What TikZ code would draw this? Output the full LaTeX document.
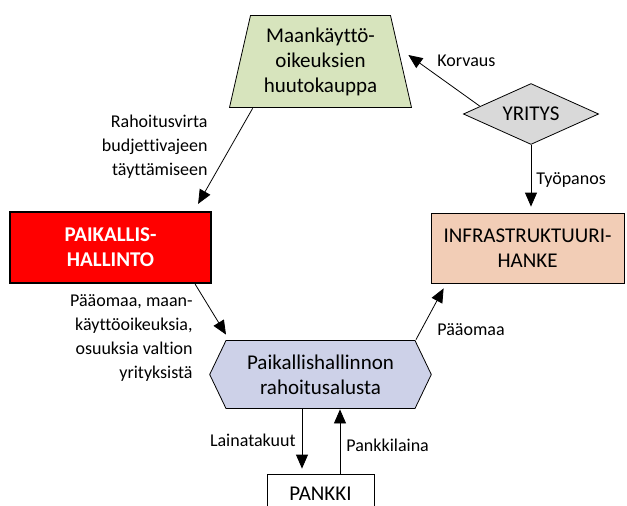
\documentclass[tikz,border=0pt]{standalone}
\usepackage{fontspec}
\setmainfont{Carlito}[Ligatures=NoCommon]
\usetikzlibrary{arrows.meta}
\definecolor{auctiongreen}{HTML}{D7E4BD}
\definecolor{firmgray}{HTML}{D9D9D9}
\definecolor{infrapeach}{HTML}{F2CDB6}
\definecolor{platformblue}{HTML}{CDD1E8}
\tikzset{
  block/.style    = {align=center, inner sep=0pt,
                     font=\fontsize{21}{25}\selectfont},
  auction/.style  = {block, path picture={
                       \filldraw[fill=auctiongreen]
                         ([shift={(21.5pt,-0.5pt)}]path picture bounding box.north west)
                         -- ([shift={(-21.5pt,-0.5pt)}]path picture bounding box.north east)
                         -- ([shift={(-0.5pt,0.5pt)}]path picture bounding box.south east)
                         -- ([shift={(0.5pt,0.5pt)}]path picture bounding box.south west)
                         -- cycle;}},
  firm/.style     = {block, path picture={
                       \filldraw[fill=firmgray]
                         ([yshift=-0.7pt]path picture bounding box.north)
                         -- ([xshift=-1pt]path picture bounding box.east)
                         -- ([yshift=0.7pt]path picture bounding box.south)
                         -- ([xshift=1pt]path picture bounding box.west)
                         -- cycle;}},
  platform/.style = {block, path picture={
                       \filldraw[fill=platformblue]
                         ([xshift=0.7pt]path picture bounding box.west)
                         -- ([shift={(17pt,-0.5pt)}]path picture bounding box.north west)
                         -- ([shift={(-17pt,-0.5pt)}]path picture bounding box.north east)
                         -- ([xshift=-0.7pt]path picture bounding box.east)
                         -- ([shift={(-17pt,0.5pt)}]path picture bounding box.south east)
                         -- ([shift={(17pt,0.5pt)}]path picture bounding box.south west)
                         -- cycle;}},
  infra/.style    = {block, draw, fill=infrapeach},
  govt/.style     = {block, draw, fill=red, line width=2.2pt,
                     text=white, font=\fontsize{21}{25}\selectfont\bfseries},
  bank/.style     = {block, draw, fill=white},
  flow/.style     = {draw, -{Triangle[length=14pt,width=12pt]}},
  lbl/.style      = {inner sep=0pt, font=\fontsize{18}{24}\selectfont}
}

\begin{document}
\begin{tikzpicture}
 [x=1pt, y=-1pt, line width=0.8pt]
  \useasboundingbox (0,0) rectangle (627,506);

  \node [auction, minimum width=183pt, minimum height=93pt] (auction) at (320.5,61.5)
    {Maankäyttö-\\oikeuksien\\huutokauppa};
  \node [firm, minimum width=137pt, minimum height=62pt] (firm) at (531,114) {YRITYS};
  \node [infra, minimum width=193pt, minimum height=70pt] (infra) at (527.5,248)
    {INFRASTRUKTUURI-\\HANKE};
  \node [govt, minimum width=201pt, minimum height=71pt] (govt) at (110.5,247.5)
    {PAIKALLIS-\\HALLINTO};
  \node [platform, minimum width=223pt, minimum height=69pt] (platform) at (320.5,374.5)
    {Paikallishallinnon\\rahoitusalusta};
  \node [bank, minimum width=107pt, minimum height=40pt] (bank) at (320.5,494) {PANKKI};

  % flows
  \draw [flow] ([xshift=24pt]auction.south west)
    -- ([shift={(-14pt,7pt)}]govt.north east);
  \draw [flow] ([shift={(17.5pt,8pt)}]firm.west) -- ([shift={(-4pt,6.5pt)}]auction.east);
  \draw [flow] (firm.south) -- ([shift={(3.5pt,6pt)}]infra.north);
  \draw [flow] ([xshift=-17pt]govt.south east)
    -- ([shift={(-94.5pt,5pt)}]platform.north);
  \draw [flow] ([xshift=95.5pt]platform.north)
    -- ([shift={(13pt,-5pt)}]infra.south west);
  \draw [flow] ([xshift=-18.5pt]platform.south) -- ([shift={(-18.5pt,5pt)}]bank.north);
  \draw [flow] ([xshift=19.5pt]bank.north) -- ([xshift=19.5pt]platform.south);

  % labels
  \node [lbl, anchor=west] (korvaus) at (437,61) {Korvaus};
  \node [lbl, anchor=east, align=right] (rahoitus) at (208,147)
    {Rahoitusvirta\\budjettivajeen\\täyttämiseen};
  \node [lbl, anchor=west] (tyopanos) at (536,180) {Työpanos};
  \node [lbl, anchor=east, align=right] (paaoma1) at (193,338)
    {Pääomaa, maan-\\käyttöoikeuksia,\\osuuksia valtion\\yrityksistä};
  \node [lbl, anchor=west] (paaoma2) at (437,330) {Pääomaa};
  \node [lbl, anchor=east] (takuut) at (296,440) {Lainatakuut};
  \node [lbl, anchor=west] (laina) at (346,445) {Pankkilaina};
\end{tikzpicture}
\end{document}
